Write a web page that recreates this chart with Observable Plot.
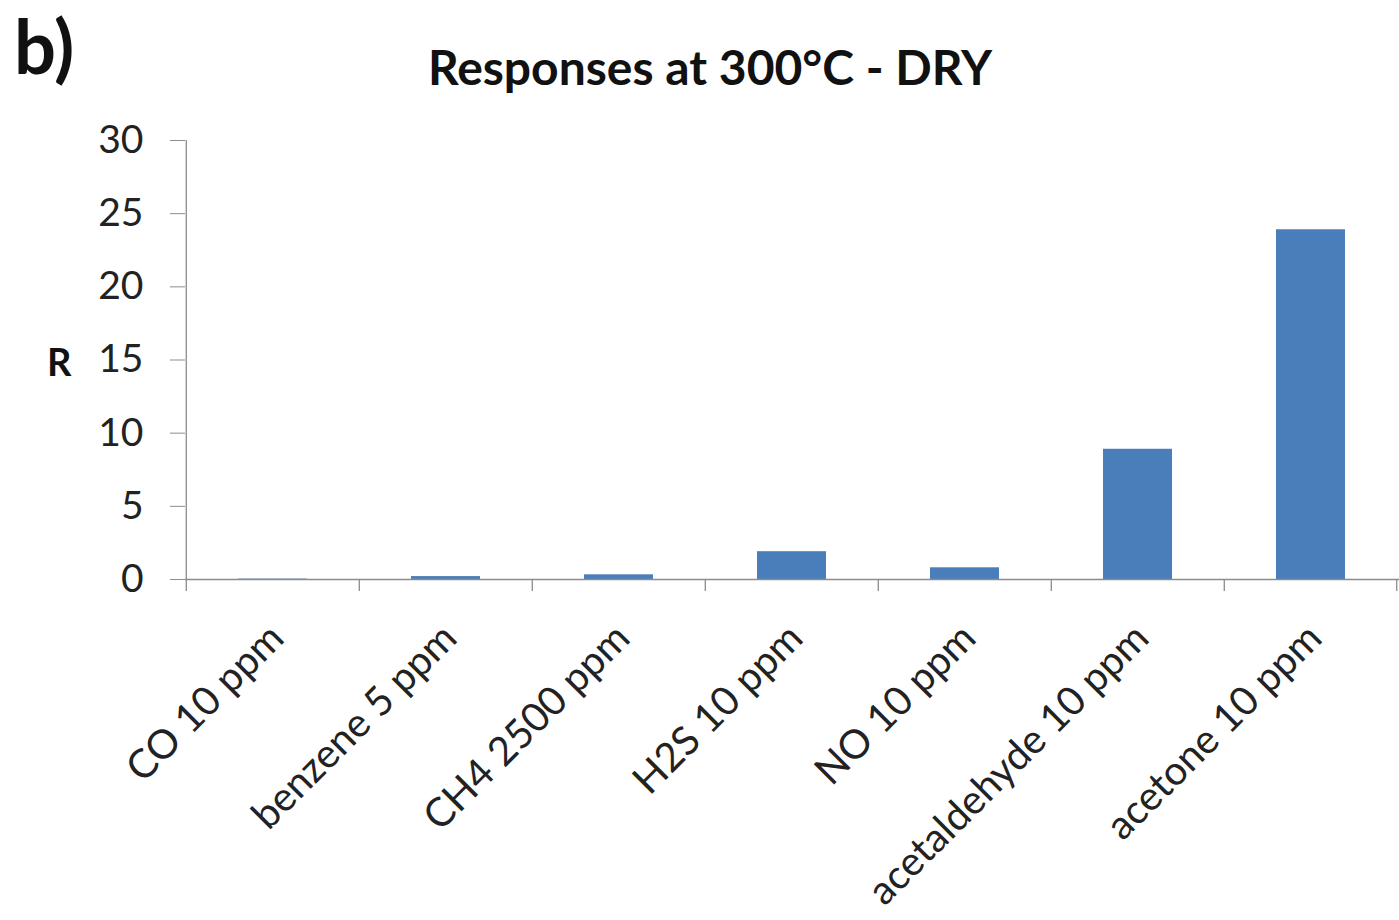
<!DOCTYPE html>
<html>
<head>
<meta charset="utf-8">
<script src="https://cdn.jsdelivr.net/npm/d3@7"></script>
<script src="https://cdn.jsdelivr.net/npm/@observablehq/plot@0.6"></script>
<style>
  html, body { margin: 0; padding: 0; background: #fff; }
  #wrap { position: relative; width: 1399px; height: 920px; overflow: hidden; font-family: Lato, "Open Sans", sans-serif; }
  #panel { position: absolute; left: 14px; top: 9px; font-size: 74px; font-weight: bold; color: #111; line-height: 1; }
  #title { position: absolute; left: 0; width: 1420px; top: 38px; text-align: center; font-size: 48px; font-weight: bold; color: #111; line-height: 1.2; }
  #ylab { position: absolute; left: 47px; top: 339px; font-size: 38px; font-weight: bold; color: #111; line-height: 1.2; }
  #chart { position: absolute; left: 0; top: 0; }
</style>
</head>
<body>
<div id="wrap">
  <div id="chart"></div>
  <div id="panel">b)</div>
  <div id="title">Responses at 300°C - DRY</div>
  <div id="ylab">R</div>
</div>
<script>
const categories = ["CO 10 ppm", "benzene 5 ppm", "CH4 2500 ppm", "H2S 10 ppm", "NO 10 ppm", "acetaldehyde 10 ppm", "acetone 10 ppm"];
const responses = [0.03, 0.2, 0.32, 1.9, 0.8, 8.9, 23.9];
const yTicks = [0, 5, 10, 15, 20, 25, 30];

const data = categories.map((c, i) => ({ gas: c, r: responses[i] }));

const W = 1399, H = 920;
const mL = 185, mR = 0, mT = 140, mB = 341;
const step = (W - mL - mR) / categories.length;

const chart = Plot.plot({
  width: W,
  height: H,
  marginLeft: mL,
  marginRight: mR,
  marginTop: mT,
  marginBottom: mB,
  style: { fontFamily: "Lato, 'Open Sans', sans-serif", color: "#222", background: "transparent" },
  x: { domain: categories, paddingInner: 0.6, paddingOuter: 0.3, label: null },
  y: { domain: [0, 30], label: null },
  marks: [
    Plot.barY(data, { x: "gas", y: "r", fill: "#4a7ebb" }),
    // category boundary ticks
    Plot.ruleX(categories, { x: d => d, dx: -step / 2, y1: 0, y2: 0, insetBottom: -12, stroke: "#8c8c8c", strokeWidth: 1.3 }),
    Plot.ruleX([categories[categories.length - 1]], { x: d => d, dx: step / 2 - 1, y1: 0, y2: 0, insetBottom: -12, stroke: "#8c8c8c", strokeWidth: 1.3 }),
    // y axis line
    Plot.ruleX([categories[0]], { x: d => d, dx: -step / 2, y1: 0, y2: 30, stroke: "#8c8c8c", strokeWidth: 1.3 }),
    // baseline
    Plot.ruleY([0], { stroke: "#8c8c8c", strokeWidth: 1.3 }),
    Plot.axisY({ ticks: yTicks, tickSize: 15, tickPadding: 27, fontSize: 39, stroke: "#8c8c8c", tickFormat: d => String(d) }),
    Plot.axisX({ tickSize: 0, tickRotate: -45, tickPadding: 52, dx: 4, fontSize: 40, textAnchor: "end" })
  ]
});
document.getElementById("chart").appendChild(chart);
</script>
</body>
</html>
